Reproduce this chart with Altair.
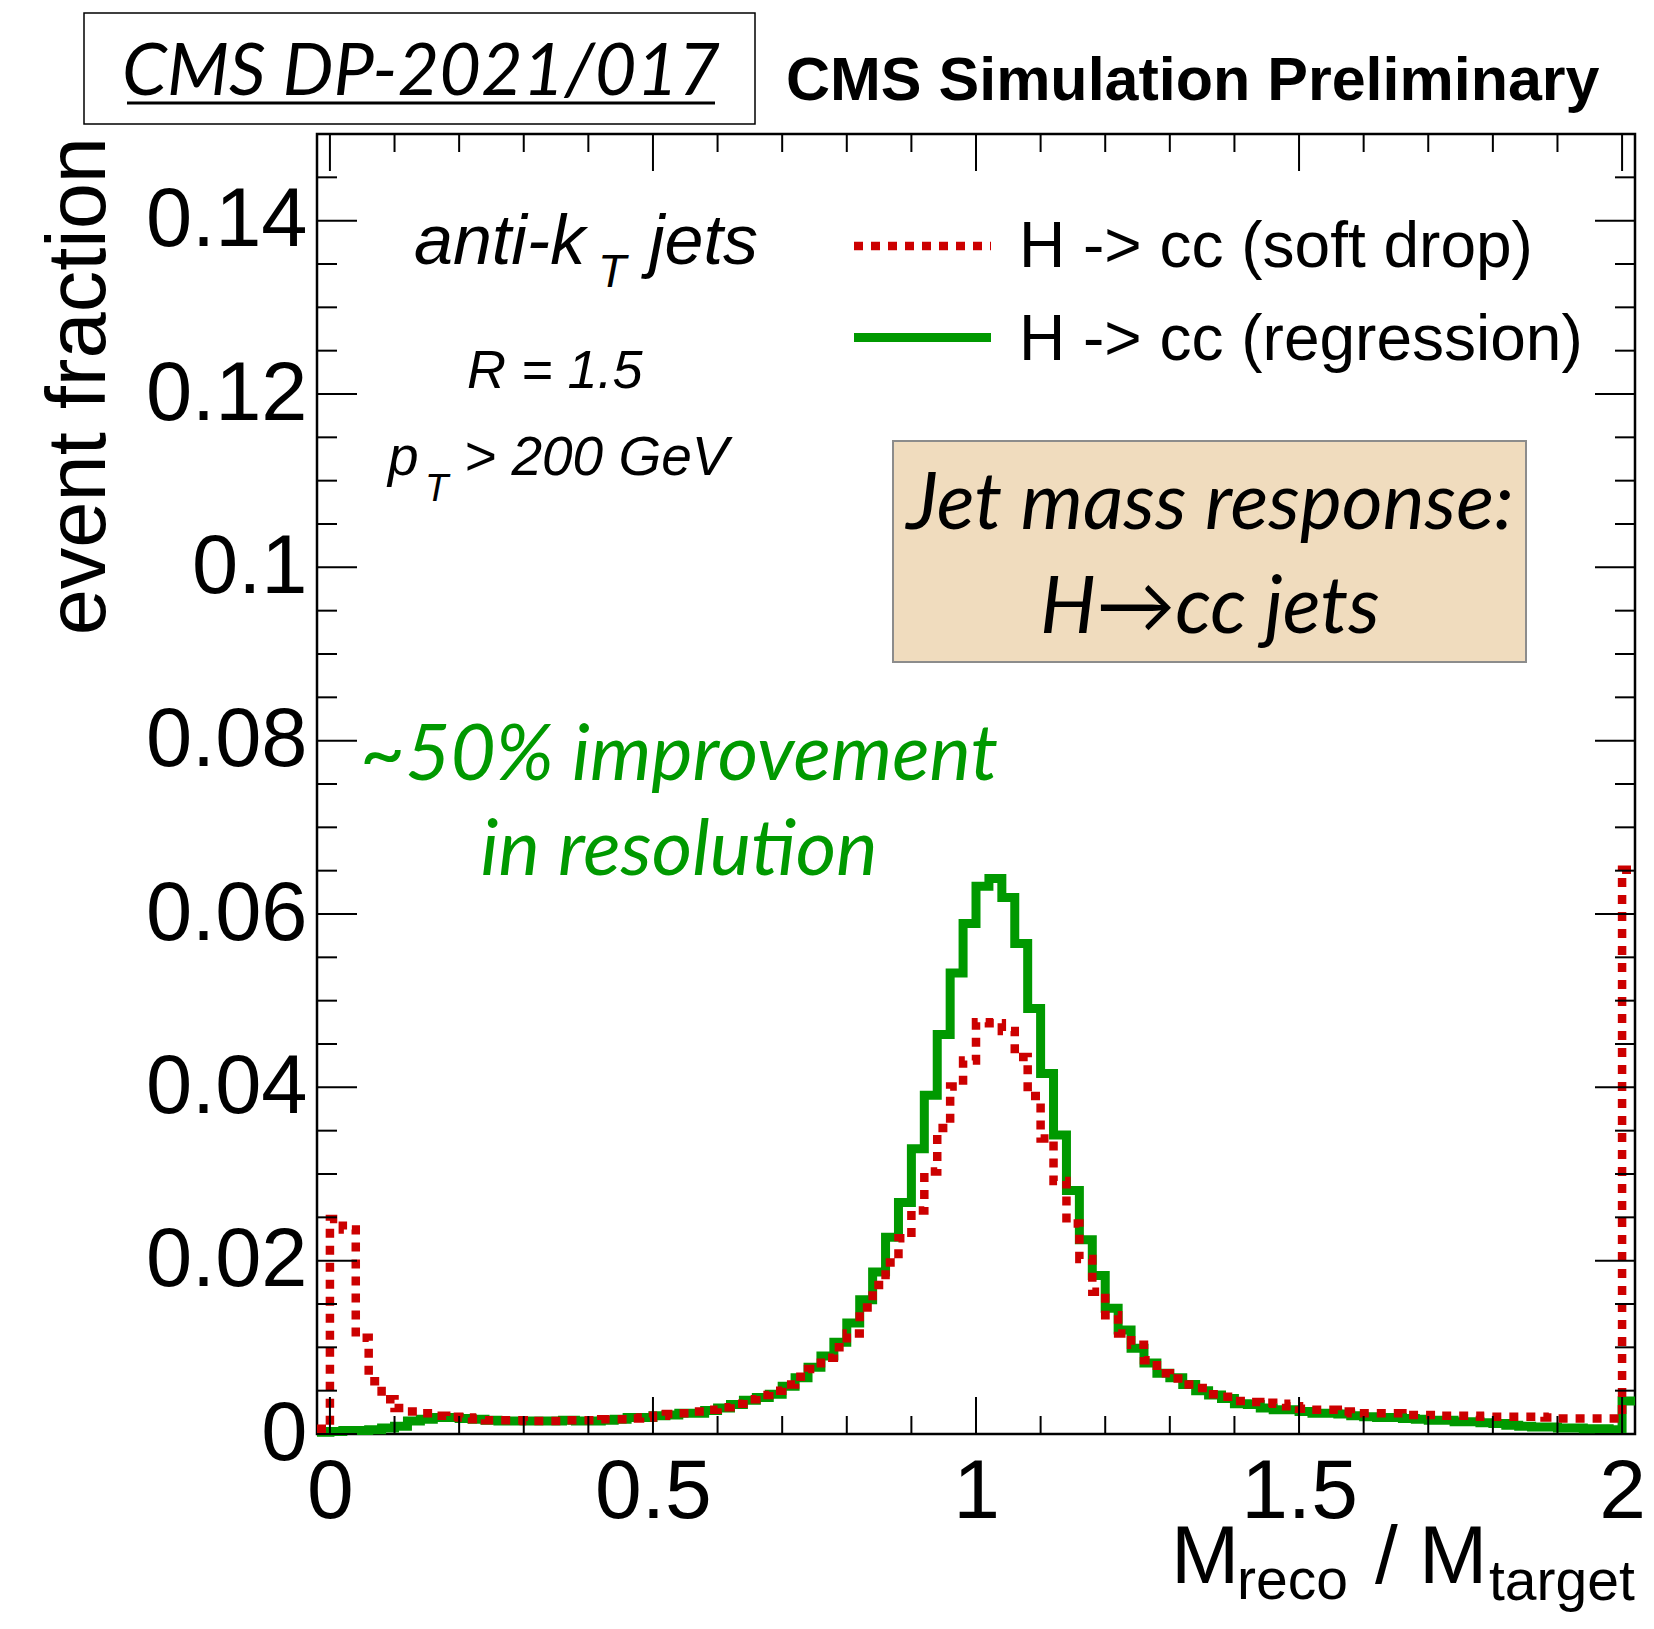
import altair as alt
import numpy as np
import pandas as pd

# ---------------- data (bin contents, bins of width 0.02 from -0.02 to 2.02) ----------------
bin_width = 0.02
x_first_edge = -0.02

soft_drop = [
    0.0006, 0.0248, 0.0236, 0.0111, 0.0061, 0.0040, 0.0030, 0.0026, 0.0024, 0.0021,  # -0.02 .. 0.16
    0.0020, 0.0019, 0.0017, 0.0016, 0.0016, 0.0016, 0.0015, 0.0015, 0.0015, 0.0016,  # 0.18 .. 0.36
    0.0016, 0.0016, 0.0017, 0.0017, 0.0018, 0.0019, 0.0021, 0.0023, 0.0024, 0.0026,  # 0.38 .. 0.56
    0.0028, 0.0031, 0.0035, 0.0040, 0.0045, 0.0050, 0.0057, 0.0066, 0.0075, 0.0088,  # 0.58 .. 0.76
    0.0100, 0.0116, 0.0146, 0.0172, 0.0198, 0.0226, 0.0258, 0.0303, 0.0353, 0.0401,  # 0.78 .. 0.96
    0.0431, 0.0475, 0.0474, 0.0465, 0.0435, 0.0390, 0.0341, 0.0292, 0.0243, 0.0202,  # 0.98 .. 1.16
    0.0164, 0.0137, 0.0116, 0.0103, 0.0085, 0.0070, 0.0064, 0.0057, 0.0053, 0.0046,  # 1.18 .. 1.36
    0.0043, 0.0038, 0.0037, 0.0036, 0.0035, 0.0032, 0.0029, 0.0028, 0.0028, 0.0026,  # 1.38 .. 1.56
    0.0024, 0.0024, 0.0024, 0.0024, 0.0022, 0.0022, 0.0022, 0.0021, 0.0021, 0.0021,  # 1.58 .. 1.76
    0.0020, 0.0020, 0.0020, 0.0020, 0.0020, 0.0019, 0.0018, 0.0018, 0.0018, 0.0018,  # 1.78 .. 1.96
    0.0018, 0.0651,                                                                  # 1.98, 2.00
]

regression = [
    0.0002, 0.0003, 0.0004, 0.0004, 0.0005, 0.0007, 0.0009, 0.0015, 0.0017, 0.0019,  # -0.02 .. 0.16
    0.0019, 0.0018, 0.0017, 0.0016, 0.0015, 0.0015, 0.0015, 0.0015, 0.0015, 0.0016,  # 0.18 .. 0.36
    0.0015, 0.0015, 0.0016, 0.0017, 0.0019, 0.0019, 0.0021, 0.0022, 0.0024, 0.0024,  # 0.38 .. 0.56
    0.0027, 0.0030, 0.0034, 0.0039, 0.0042, 0.0046, 0.0055, 0.0065, 0.0077, 0.0090,  # 0.58 .. 0.76
    0.0106, 0.0128, 0.0155, 0.0187, 0.0227, 0.0267, 0.0329, 0.0391, 0.0461, 0.0532,  # 0.78 .. 0.96
    0.0589, 0.0632, 0.0641, 0.0619, 0.0566, 0.0491, 0.0416, 0.0345, 0.0281, 0.0224,  # 0.98 .. 1.16
    0.0183, 0.0145, 0.0120, 0.0099, 0.0082, 0.0070, 0.0065, 0.0057, 0.0050, 0.0045,  # 1.18 .. 1.36
    0.0041, 0.0035, 0.0034, 0.0030, 0.0028, 0.0028, 0.0026, 0.0024, 0.0024, 0.0023,  # 1.38 .. 1.56
    0.0021, 0.0020, 0.0019, 0.0019, 0.0018, 0.0017, 0.0016, 0.0016, 0.0014, 0.0014,  # 1.58 .. 1.76
    0.0013, 0.0012, 0.0010, 0.0009, 0.0008, 0.0008, 0.0007, 0.0007, 0.0006, 0.0006,  # 1.78 .. 1.96
    0.0005, 0.0038,                                                                  # 1.98, 2.00
]

x_major = [0, 0.5, 1, 1.5, 2]
x_minor = [0.1, 0.2, 0.3, 0.4, 0.6, 0.7, 0.8, 0.9, 1.1, 1.2, 1.3, 1.4, 1.6, 1.7, 1.8, 1.9]
y_major = [0, 0.02, 0.04, 0.06, 0.08, 0.1, 0.12, 0.14]
y_minor = [0.005, 0.01, 0.015, 0.025, 0.03, 0.035, 0.045, 0.05, 0.055, 0.065, 0.07, 0.075,
           0.085, 0.09, 0.095, 0.105, 0.11, 0.115, 0.125, 0.13, 0.135, 0.145]

label_soft = "H -> cc (soft drop)"
label_regr = "H -> cc (regression)"

# ---------------- layout ----------------
W, H = 1318, 1300
RED = "#CC0000"
GREEN = "#009900"
HELV = "Liberation Sans"
GILL = "Lato"

def step_frame(values):
    n = len(values)
    edges = [round(x_first_edge + i * bin_width, 4) for i in range(n + 1)]
    vals = list(values) + [values[-1]]
    return pd.DataFrame({"v": edges, "value": vals})

xscale = alt.Scale(domain=[-0.02, 2.02], nice=False, zero=False)
yscale = alt.Scale(domain=[0, 0.15], nice=False, zero=False)

x_axis = alt.Axis(values=x_major, format="~g", labelFont=HELV, labelFontSize=84,
                  labelColor="black", labelPadding=17, labelFlush=False, labelOverlap=False,
                  ticks=False, tickSize=0, domain=False, grid=False, title=None)
y_axis = alt.Axis(values=y_major, format="~g", labelFont=HELV, labelFontSize=83,
                  labelColor="black", labelPadding=10, labelFlush=False, labelOverlap=False,
                  ticks=False, tickSize=0, domain=False, grid=False, title=None)

XQ = lambda: alt.X("v:Q", scale=xscale, axis=x_axis, title=None)
YQ = lambda f="v": alt.Y(f"{f}:Q", scale=yscale, axis=y_axis, title=None)

green_line = alt.Chart(step_frame(regression)).mark_line(
    interpolate="step-after", color=GREEN, strokeWidth=9, strokeJoin="miter"
).encode(x=XQ(), y=YQ("value"))

red_line = alt.Chart(step_frame(soft_drop)).mark_line(
    interpolate="step-after", color=RED, strokeWidth=8.5, strokeDash=[9, 8], strokeJoin="miter"
).encode(x=XQ(), y=YQ("value"))

def xticks(vals, length):
    df = pd.DataFrame({"v": vals})
    bottom = alt.Chart(df).mark_rule(color="black", strokeWidth=2).encode(
        x=XQ(), y=alt.value(H), y2=alt.value(H - length))
    top = alt.Chart(df).mark_rule(color="black", strokeWidth=2).encode(
        x=XQ(), y=alt.value(0), y2=alt.value(length))
    return [bottom, top]

def yticks(vals, length):
    df = pd.DataFrame({"v": vals})
    left = alt.Chart(df).mark_rule(color="black", strokeWidth=2).encode(
        y=YQ(), x=alt.value(0), x2=alt.value(length))
    right = alt.Chart(df).mark_rule(color="black", strokeWidth=2).encode(
        y=YQ(), x=alt.value(W), x2=alt.value(W - length))
    return [left, right]

def txt(s, x, y, size, font=HELV, style="normal", weight="normal", color="black",
        align="left", baseline="alphabetic", angle=0):
    return alt.Chart(alt.Data(values=[{}])).mark_text(
        text=s, font=font, fontSize=size, fontStyle=style, fontWeight=weight,
        color=color, align=align, baseline=baseline, angle=angle
    ).encode(x=alt.value(x), y=alt.value(y))

def rule(x1, x2, y1, y2, color, width, dash=None):
    kw = dict(color=color, strokeWidth=width)
    if dash:
        kw["strokeDash"] = dash
    return alt.Chart(alt.Data(values=[{}])).mark_rule(**kw).encode(
        x=alt.value(x1), x2=alt.value(x2), y=alt.value(y1), y2=alt.value(y2))

def box(x1, x2, y1, y2, fill, stroke, width):
    return alt.Chart(alt.Data(values=[{}])).mark_rect(
        fill=fill, stroke=stroke, strokeWidth=width
    ).encode(x=alt.value(x1), x2=alt.value(x2), y=alt.value(y1), y2=alt.value(y2))

layers = [green_line, red_line]
layers += xticks(x_major, 37) + xticks(x_minor, 18)
layers += yticks(y_major, 40) + yticks(y_minor, 20)

# header
layers += [
    box(-233, 438, -121, -10, "white", "black", 1.5),
    txt("CMS DP-2021/017", 104, -39, 72, font=GILL, style="italic", align="center"),
    rule(-190, 398, -31, -31, "black", 3),
    txt("CMS Simulation Preliminary", 469, -34, 61, weight="bold"),
]

# in-plot annotations
layers += [
    txt("anti-k", 97, 130, 70, style="italic"),
    txt("T", 281, 153, 46, style="italic"),
    txt("jets", 332, 130, 70, style="italic"),
    txt("R = 1.5", 150, 254, 54, style="italic"),
    txt("p", 71, 341, 55, style="italic"),
    txt("T", 108, 367, 38, style="italic"),
    txt("> 200 GeV", 147, 341, 55, style="italic"),
    # legend
    rule(537, 674, 112, 112, RED, 8.5, [9, 8]),
    rule(537, 674, 203.5, 203.5, GREEN, 9),
    txt(label_soft, 702, 133, 64),
    txt(label_regr, 702, 226, 64),
    # tan box
    box(576, 1209, 307, 528, "#F0DCBE", "#8C8C8C", 2),
    txt("Jet mass response:", 893, 395, 79, font=GILL, style="italic", align="center"),
    txt("H\u2192cc jets", 893, 499, 79, font=GILL, style="italic", align="center"),
    # green comment
    txt("~50% improvement", 362, 646, 78, font=GILL, style="italic", color=GREEN, align="center"),
    txt("in resolution", 362, 741, 78, font=GILL, style="italic", color=GREEN, align="center"),
    # axis titles
    txt("event fraction", -212, 3, 83, angle=270, align="right"),
    txt("M", 854, 1449, 82),
    txt("reco", 920, 1465, 57),
    txt("/", 1058, 1449, 82),
    txt("M", 1102, 1449, 82),
    txt("target", 1172, 1466, 57),
]

chart = alt.layer(*layers).properties(
    width=W, height=H,
    padding={"left": 309, "top": 126, "right": 11, "bottom": 180},
    autosize=alt.AutoSizeParams(type="none"),
    background="white",
).configure_view(stroke="black", strokeWidth=2.5)

chart.save("out.html", embed_options={"renderer": "svg", "actions": False})
